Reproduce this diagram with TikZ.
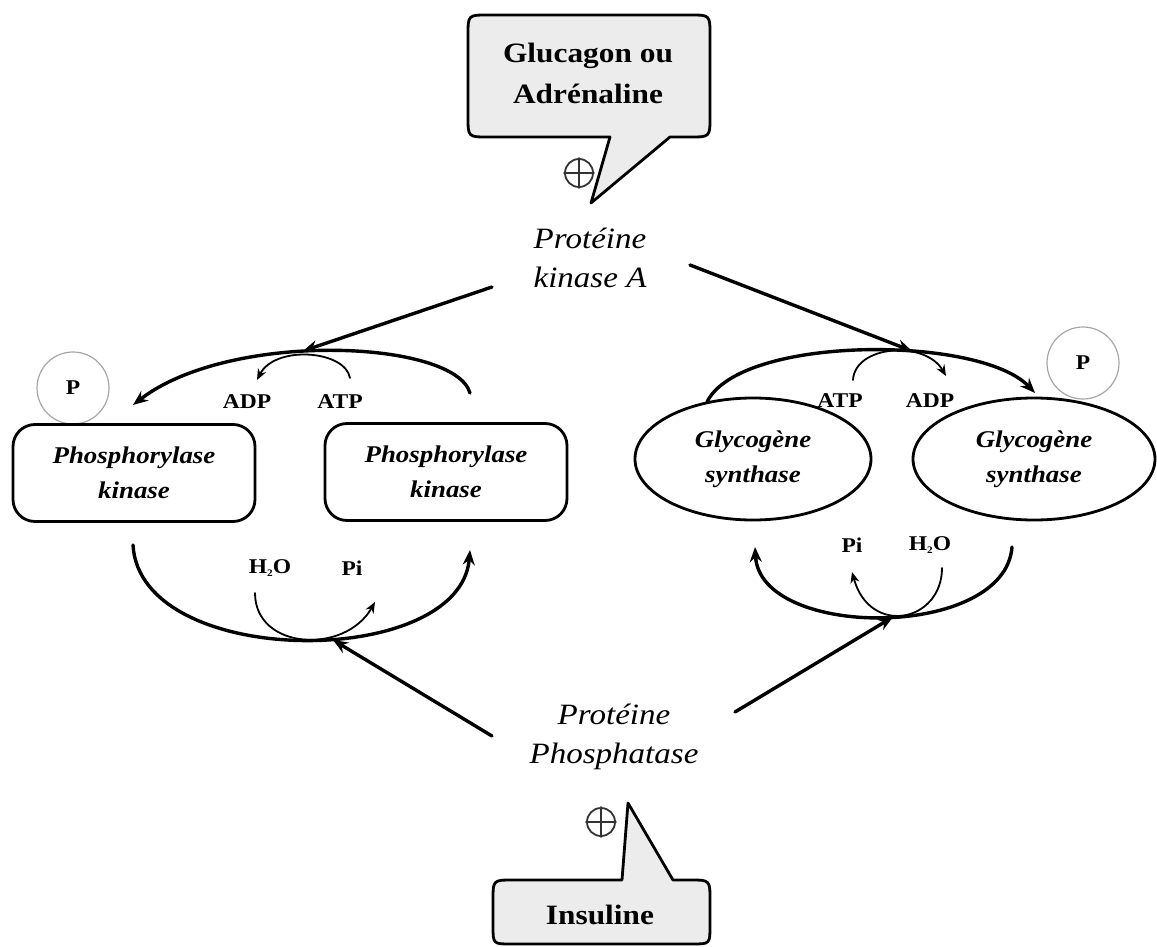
\documentclass[tikz,border=0pt]{standalone}
\usepackage{fontspec}
\setmainfont{Liberation Serif}[FakeStretch=1.12]
\usetikzlibrary{arrows.meta,shapes.geometric}
\begin{document}
\begin{tikzpicture}[x=1pt,y=-1pt,line join=round,line cap=round,
  mainarc/.style={line width=3.4pt},
  smallarc/.style={line width=1.8pt},
  bigtip/.style={-{Stealth[length=15pt,width=12pt]}},
  smalltip/.style={-{Stealth[length=11pt,width=9pt]}},
  lbl/.style={font=\fontsize{21}{22}\selectfont\bfseries, inner sep=1pt},
  enz/.style={font=\fontsize{24}{35}\selectfont\bfseries\itshape, align=center},
  prot/.style={font=\fontsize{29.5}{39}\selectfont\itshape, align=center},
  hormone/.style={font=\fontsize{28}{41}\selectfont\bfseries, align=center},
  callout/.style={draw, line width=2.8pt, fill=gray!15},
  pbox/.style={draw, line width=2.8pt, rounded corners=22pt, minimum width=242pt, minimum height=97pt},
  gsell/.style={draw, ellipse, line width=2.8pt, inner sep=0pt},
  pcirc/.style={draw=gray!70, circle, line width=1.2pt, minimum size=72pt, inner sep=0pt, font=\fontsize{21}{21}\selectfont\bfseries},
  plusc/.style={draw=black!80, circle, line width=1.8pt, minimum size=28pt, inner sep=0pt}]
\useasboundingbox (0,0) rectangle (1157,947);

% ---- callouts
\draw[callout] (591,203) -- (670,137) -- (690,137) .. controls (710,137) .. (710,117)
  -- (710,35) .. controls (710,15) .. (690,15) -- (488,15) .. controls (468,15) .. (468,35)
  -- (468,117) .. controls (468,137) .. (488,137) -- (610,137) -- cycle;
\node[hormone] (gluc) at (588,73) {Glucagon ou\\Adrénaline};
\node[plusc] (plus1) at (579,173) {};
\draw[black!80,line width=1.8pt] (plus1.north) -- (plus1.south) (plus1.west) -- (plus1.east);

\draw[callout] (628,803) -- (673,880) -- (690,880) .. controls (710,880) .. (710,900)
  -- (710,926) .. controls (710,944) .. (692,944) -- (511,944) .. controls (493,944) .. (493,926)
  -- (493,900) .. controls (493,880) .. (513,880) -- (622,880) -- cycle;
\node[hormone] (ins) at (600,915) {Insuline};
\node[plusc] (plus2) at (601,822) {};
\draw[black!80,line width=1.8pt] (plus2.north) -- (plus2.south) (plus2.west) -- (plus2.east);

% ---- central proteins
\node[prot] (pka) at (590,258) {Protéine\\kinase A};
\node[prot] (pp) at (614,737) {Protéine\\Phosphatase};

% ---- left: phosphorylase kinase
\node[pcirc] (pL) at (73,388) {P};
\node[pbox] (pkL) at (134,473) {};
\node[enz] at (pkL) {Phosphorylase\\kinase};
\node[pbox] (pkR) at (446,472) {};
\node[enz] at (pkR) {Phosphorylase\\kinase};

\node[lbl] (adpL) at (247,402) {ADP};
\node[lbl] (atpL) at (340,402) {ATP};
\node[lbl] (h2oL) at (270,568) {H{\fontsize{10}{10}\selectfont\raisebox{-3pt}{2}}O};
\node[lbl] (piL) at (352,568) {Pi};

\coordinate (aTLs) at (470,393);
\coordinate (aTLe) at (133,405);
\coordinate (jTL) at (303,351);
\coordinate (sTLs) at (350,378);
\coordinate (sTLe) at (257,380);
\coordinate (aBLs) at (133,545);
\coordinate (aBLe) at (470,550);
\coordinate (jBL) at (333,640);
\coordinate (sBLs) at (255,593);
\coordinate (sBLe) at (375,602);
\coordinate (pkaL) at (492,287);
\coordinate (ppL) at (492,736);

\draw[mainarc,bigtip] (aTLs) .. controls (455,340) and (230,330) .. (aTLe);
\draw[smallarc,smalltip] (sTLs) .. controls (345,350) and (275,345) .. (sTLe);
\draw[mainarc,bigtip] (pkaL) -- (jTL);
\draw[mainarc,bigtip] (aBLs) .. controls (140,670) and (460,670) .. (aBLe);
\draw[smallarc,smalltip] (sBLs) .. controls (255,650) and (345,655) .. (sBLe);
\draw[mainarc,bigtip] (ppL) -- (jBL);

% ---- right: glycogene synthase
\node[gsell, minimum width=236pt, minimum height=122pt] (gsL) at (753,459) {};
\node[enz] at (gsL) {Glycogène\\synthase};
\node[gsell, minimum width=242pt, minimum height=122pt] (gsR) at (1034,459) {};
\node[enz] at (gsR) {Glycogène\\synthase};
\node[pcirc] (pR) at (1083,363) {P};

\node[lbl] (atpR) at (840,401) {ATP};
\node[lbl] (adpR) at (930,401) {ADP};
\node[lbl] (piR) at (852,545) {Pi};
\node[lbl] (h2oR) at (930,545) {H{\fontsize{10}{10}\selectfont\raisebox{-3pt}{2}}O};

\coordinate (aTRs) at (707,402);
\coordinate (aTRe) at (1035,393);
\coordinate (jTR) at (912,351);
\coordinate (sTRs) at (853,380);
\coordinate (sTRe) at (946,376);
\coordinate (aBRs) at (1012,547);
\coordinate (aBRe) at (755,547);
\coordinate (jBR) at (893,617);
\coordinate (sBRs) at (942,568);
\coordinate (sBRe) at (852,572);
\coordinate (pkaR) at (690,265);
\coordinate (ppR) at (735,712);

\draw[mainarc,bigtip] (aTRs) .. controls (740,335) and (980,335) .. (aTRe);
\draw[smallarc,smalltip] (sTRs) .. controls (855,345) and (925,340) .. (sTRe);
\draw[mainarc,bigtip] (pkaR) -- (jTR);
\draw[mainarc,bigtip] (aBRs) .. controls (1005,640) and (760,640) .. (aBRe);
\draw[smallarc,smalltip] (sBRs) .. controls (942,622) and (870,637) .. (sBRe);
\draw[mainarc,bigtip] (ppR) -- (jBR);
\end{tikzpicture}
\end{document}
